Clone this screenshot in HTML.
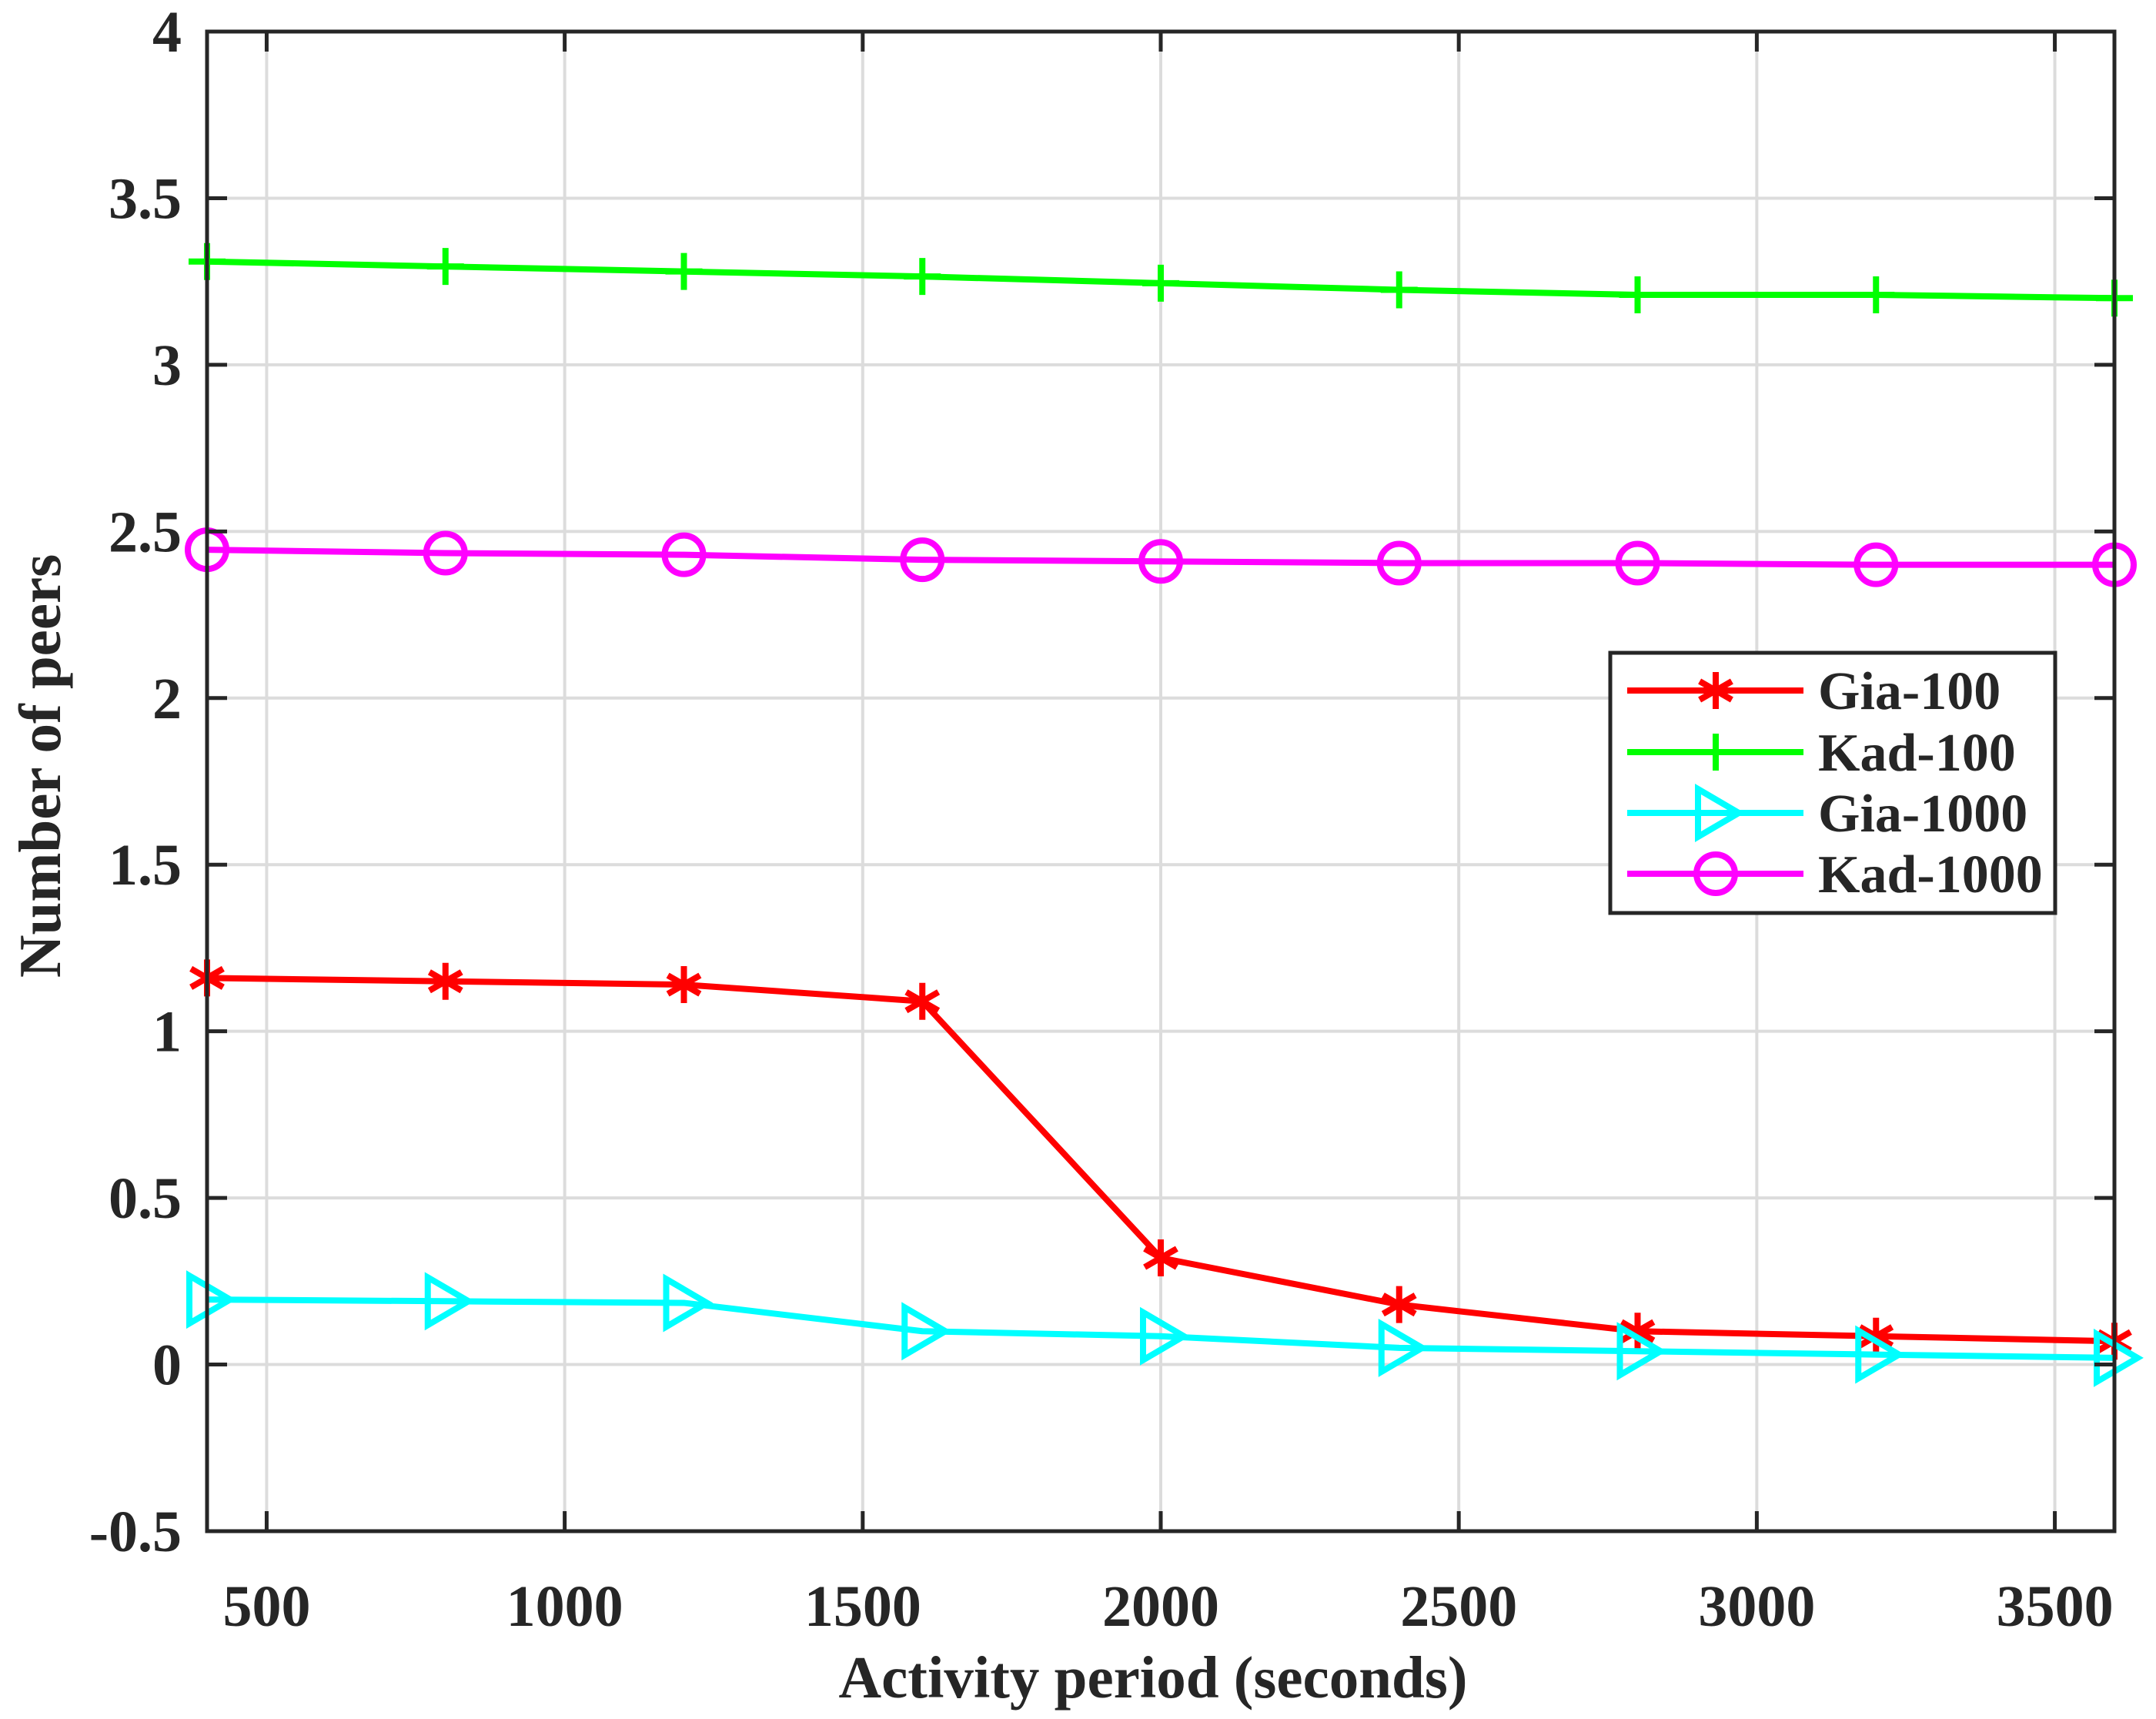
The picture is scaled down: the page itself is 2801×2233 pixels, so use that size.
<!DOCTYPE html>
<html><head><meta charset="utf-8"><style>
html,body{margin:0;padding:0;background:#fff;}
svg text{font-family:"Liberation Serif",serif;font-weight:bold;fill:#262626;}
</style></head><body>
<svg id="chart" width="2801" height="2228" viewBox="0 0 2801 2228" xmlns="http://www.w3.org/2000/svg">
<rect width="2801" height="2228" fill="#fff"/>
<g id="grid"></g>
<g id="series"></g>
<g id="axes"></g>
<g id="legend"></g>
</svg>
<script>
const xValues = [400, 800, 1200, 1600, 2000, 2400, 2800, 3200, 3600];
const gia100 = [1.16, 1.15, 1.14, 1.09, 0.32, 0.18, 0.10, 0.085, 0.07];
const kad100 = [3.31, 3.295, 3.28, 3.265, 3.245, 3.225, 3.21, 3.21, 3.20];
const gia1000 = [0.195, 0.19, 0.185, 0.10, 0.085, 0.05, 0.04, 0.03, 0.02];
const kad1000 = [2.445, 2.435, 2.43, 2.415, 2.41, 2.405, 2.405, 2.40, 2.40];
const xTicks = [500, 1000, 1500, 2000, 2500, 3000, 3500];
const yTicks = [-0.5, 0, 0.5, 1, 1.5, 2, 2.5, 3, 3.5, 4];
const yTickLabels = ["-0.5", "0", "0.5", "1", "1.5", "2", "2.5", "3", "3.5", "4"];
const seriesNames = ["Gia-100", "Kad-100", "Gia-1000", "Kad-1000"];

const NS = "http://www.w3.org/2000/svg";
const X0 = 269, X1 = 2747, Y0 = 41, Y1 = 1989;
const xMin = 400, xMax = 3600, yMin = -0.5, yMax = 4;
function sx(v){ return X0 + (v - xMin) / (xMax - xMin) * (X1 - X0); }
function sy(v){ return Y1 - (v - yMin) / (yMax - yMin) * (Y1 - Y0); }
function mk(tag, attrs, parent){
  const e = document.createElementNS(NS, tag);
  for (const k in attrs) e.setAttribute(k, attrs[k]);
  parent.appendChild(e);
  return e;
}
const grid = document.getElementById('grid');
const axes = document.getElementById('axes');
const series = document.getElementById('series');
const legend = document.getElementById('legend');

xTicks.forEach(t => {
  const g = mk('line', {x1: sx(t), x2: sx(t), y1: Y0, y2: Y1, stroke: '#dcdcdc', 'stroke-width': 4}, grid);
  
  
});
yTicks.forEach(t => {
  const g = mk('line', {x1: X0, x2: X1, y1: sy(t), y2: sy(t), stroke: '#dcdcdc', 'stroke-width': 4}, grid);
  
  
});

function marker(type, x, y, color, parent){
  const g = mk('g', {stroke: color, 'stroke-width': 8, fill: 'none'}, parent);
  if (type === 'star'){
    const r = 24;
    mk('line', {x1: x, x2: x, y1: y - r, y2: y + r}, g);
    mk('line', {x1: x - r*0.87, x2: x + r*0.87, y1: y - r*0.5, y2: y + r*0.5}, g);
    mk('line', {x1: x - r*0.87, x2: x + r*0.87, y1: y + r*0.5, y2: y - r*0.5}, g);
  } else if (type === 'plus'){
    const r = 24;
    mk('line', {x1: x, x2: x, y1: y - r, y2: y + r}, g);
    mk('line', {x1: x - r, x2: x + r, y1: y, y2: y}, g);
  } else if (type === 'tri'){
    mk('polygon', {points: (x-23)+','+(y-31)+' '+(x+30)+','+y+' '+(x-23)+','+(y+31)}, g);
  } else {
    mk('ellipse', {cx: x, cy: y, rx: 25, ry: 25}, g);
  }
  return g;
}

const defs = [
  {name: seriesNames[0], data: gia100, color: '#ff0000', m: 'star'},
  {name: seriesNames[1], data: kad100, color: '#00ff00', m: 'plus'},
  {name: seriesNames[2], data: gia1000, color: '#00ffff', m: 'tri'},
  {name: seriesNames[3], data: kad1000, color: '#ff00ff', m: 'circle'}
];
defs.forEach(d => {
  const g = mk('g', {}, series);
  
  
  const pts = d.data.map((v, i) => sx(xValues[i]) + ',' + sy(v)).join(' ');
  const pl = mk('polyline', {points: pts, fill: 'none', stroke: d.color, 'stroke-width': 8, 'stroke-linejoin': 'round'}, g);
  
  
  d.data.forEach((v, i) => {
    const m = marker(d.m, sx(xValues[i]), sy(v), d.color, g);
    
    
  });
});

const box = mk('rect', {x: X0, y: Y0, width: X1 - X0, height: Y1 - Y0, fill: 'none', stroke: '#262626', 'stroke-width': 5}, axes);


const TL = 26;
xTicks.forEach(t => {
  mk('line', {x1: sx(t), x2: sx(t), y1: Y1, y2: Y1 - TL, stroke: '#262626', 'stroke-width': 5}, axes);
  mk('line', {x1: sx(t), x2: sx(t), y1: Y0, y2: Y0 + TL, stroke: '#262626', 'stroke-width': 5}, axes);
  const tx = mk('text', {x: sx(t), y: 2112, 'font-size': 76, 'text-anchor': 'middle'}, axes);
  tx.textContent = t;
  
  
});
yTicks.forEach((t, i) => {
  mk('line', {x1: X0, x2: X0 + TL, y1: sy(t), y2: sy(t), stroke: '#262626', 'stroke-width': 5}, axes);
  mk('line', {x1: X1, x2: X1 - TL, y1: sy(t), y2: sy(t), stroke: '#262626', 'stroke-width': 5}, axes);
  const tx = mk('text', {x: 236, y: sy(t) + 26, 'font-size': 76, 'text-anchor': 'end'}, axes);
  tx.textContent = yTickLabels[i];
  
  
});
const xt = mk('text', {x: (X0 + X1) / 2 - 10, y: 2205, 'font-size': 77, 'text-anchor': 'middle'}, axes);
xt.textContent = 'Activity period (seconds)';


const yt = mk('text', {x: 0, y: 0, 'font-size': 77, 'text-anchor': 'middle', transform: 'translate(78,' + ((Y0 + Y1) / 2 - 20) + ') rotate(-90)'}, axes);
yt.textContent = 'Number of peers';



const lb = mk('rect', {x: 2092, y: 848, width: 578, height: 338, fill: '#fff', stroke: '#262626', 'stroke-width': 5}, legend);


const rowY = [897, 977, 1056, 1135];
defs.forEach((d, i) => {
  const g = mk('g', {}, legend);
  
  
  mk('line', {x1: 2114, x2: 2343, y1: rowY[i], y2: rowY[i], stroke: d.color, 'stroke-width': 8}, g);
  marker(d.m, 2229, rowY[i], d.color, g);
  const t = mk('text', {x: 2362, y: rowY[i] + 24, 'font-size': 70, fill: '#000'}, g);
  t.textContent = d.name;
  
  
});
</script>
</body></html>
